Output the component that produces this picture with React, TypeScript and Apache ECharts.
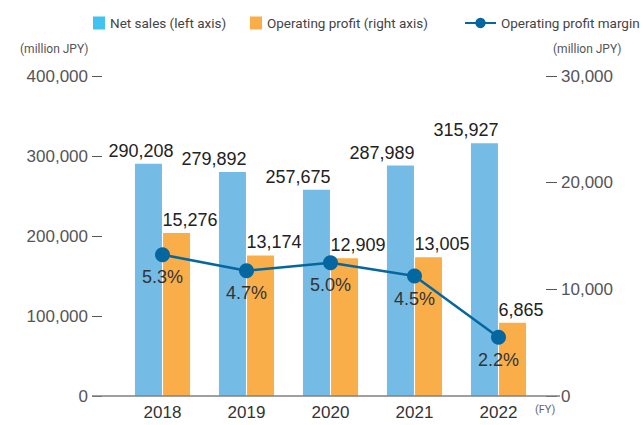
import React, { useEffect, useRef } from "react";
import * as echarts from "echarts";

const years = ["2018", "2019", "2020", "2021", "2022"];
const netSales = [290208, 279892, 257675, 287989, 315927];
const operatingProfit = [15276, 13174, 12909, 13005, 6865];
const profitMargin = [5.3, 4.7, 5.0, 4.5, 2.2];

const fmt = (v: number) => v.toLocaleString("en-US");
const FONT = "Roboto, 'Liberation Sans', Arial, sans-serif";
const NUMFONT = "'Liberation Sans', Arial, sans-serif";

export default function App() {
  const ref = useRef<HTMLDivElement>(null);
  useEffect(() => {
    if (!ref.current) return;
    const chart = echarts.init(ref.current, undefined, { renderer: "svg" });
    const legendBase = {
      top: 11,
      itemHeight: 13,
      itemGap: 20,
      textStyle: { fontFamily: FONT, fontSize: 13.5, color: "#444" },
      selectedMode: false,
    };
    chart.setOption({
      animation: false,
      legend: [
        {
          ...legendBase,
          left: 88,
          itemWidth: 12,
          data: [{ name: "Net sales (left axis)", icon: "rect", itemStyle: { color: "#41C3EF" } }],
        },
        {
          ...legendBase,
          left: 245,
          itemWidth: 12,
          data: [{ name: "Operating profit (right axis)", icon: "rect" }],
        },
        {
          ...legendBase,
          left: 459,
          itemWidth: 31,
          data: [{ name: "Operating profit margin" }],
        },
      ],
      grid: { left: 120.5, right: 102.5, top: 76, bottom: 29, containLabel: false },
      xAxis: {
        type: "category",
        data: years,
        axisLine: { show: false },
        axisTick: { show: false },
        axisLabel: { margin: 8, fontFamily: NUMFONT, fontSize: 17, color: "#333" },
      },
      yAxis: [
        {
          type: "value",
          position: "left",
          offset: 18.5,
          min: 0,
          max: 400000,
          interval: 100000,
          splitLine: { show: false },
          axisLine: { show: false },
          axisTick: { show: true, length: 10, lineStyle: { color: "#555", width: 1 } },
          axisLabel: {
            margin: 14,
            fontFamily: NUMFONT,
            fontSize: 17,
            color: "#555",
            formatter: (v: number) => fmt(v),
          },
        },
        {
          type: "value",
          position: "right",
          offset: 5.5,
          min: 0,
          max: 30000,
          interval: 10000,
          splitLine: { show: false },
          axisLine: { show: false },
          axisTick: { show: true, length: 11, lineStyle: { color: "#555", width: 1 } },
          axisLabel: {
            margin: 15,
            fontFamily: NUMFONT,
            fontSize: 17,
            color: "#555",
            formatter: (v: number) => fmt(v),
          },
        },
        { type: "value", show: false, min: 0, max: 12 },
      ],
      series: [
        {
          name: "Net sales (left axis)",
          type: "bar",
          yAxisIndex: 0,
          data: netSales.map((v, i) => (i === 0 ? { value: v, label: { offset: [25, 0] } } : v)),
          barWidth: 27,
          barGap: "4%",
          itemStyle: { color: "#74BBE6" },
          label: {
            show: true,
            position: "top",
            align: "right",
            distance: 4,
            offset: [14, 0],
            fontFamily: NUMFONT,
            fontSize: 18,
            color: "#222",
            formatter: (p: any) => fmt(p.value),
          },
        },
        {
          name: "Operating profit (right axis)",
          type: "bar",
          yAxisIndex: 1,
          data: operatingProfit,
          barWidth: 27,
          barGap: "4%",
          itemStyle: { color: "#F9AE4A" },
          label: {
            show: true,
            position: "top",
            align: "left",
            distance: 4,
            offset: [-14, 0],
            fontFamily: NUMFONT,
            fontSize: 18,
            color: "#222",
            formatter: (p: any) => fmt(p.value),
          },
        },
        {
          name: "Operating profit margin",
          type: "line",
          yAxisIndex: 2,
          data: profitMargin,
          symbol: "circle",
          symbolSize: 15,
          itemStyle: { color: "#05679F" },
          lineStyle: { color: "#05679F", width: 2.5 },
          z: 5,
          label: {
            show: true,
            position: "bottom",
            distance: 6,
            fontFamily: NUMFONT,
            fontSize: 18,
            color: "#333",
            formatter: (p: any) => Number(p.value).toFixed(1) + "%",
          },
        },
      ],
      graphic: [
        {
          type: "line",
          shape: { x1: 92, y1: 396, x2: 560, y2: 396 },
          style: { stroke: "#808080", lineWidth: 1.5 },
          z: 10,
        },
        {
          type: "text",
          left: 20,
          top: 43,
          style: { text: "(million JPY)", fontFamily: FONT, fontSize: 12, fill: "#555" },
        },
        {
          type: "text",
          left: 553,
          top: 43,
          style: { text: "(million JPY)", fontFamily: FONT, fontSize: 12, fill: "#555" },
        },
        {
          type: "text",
          left: 535,
          top: 404,
          style: { text: "(FY)", fontFamily: FONT, fontSize: 11, fill: "#666" },
        },
      ],
    });
    return () => chart.dispose();
  }, []);
  return <div ref={ref} style={{ width: 643, height: 425, position: "absolute", left: 0, top: 0 }} />;
}
